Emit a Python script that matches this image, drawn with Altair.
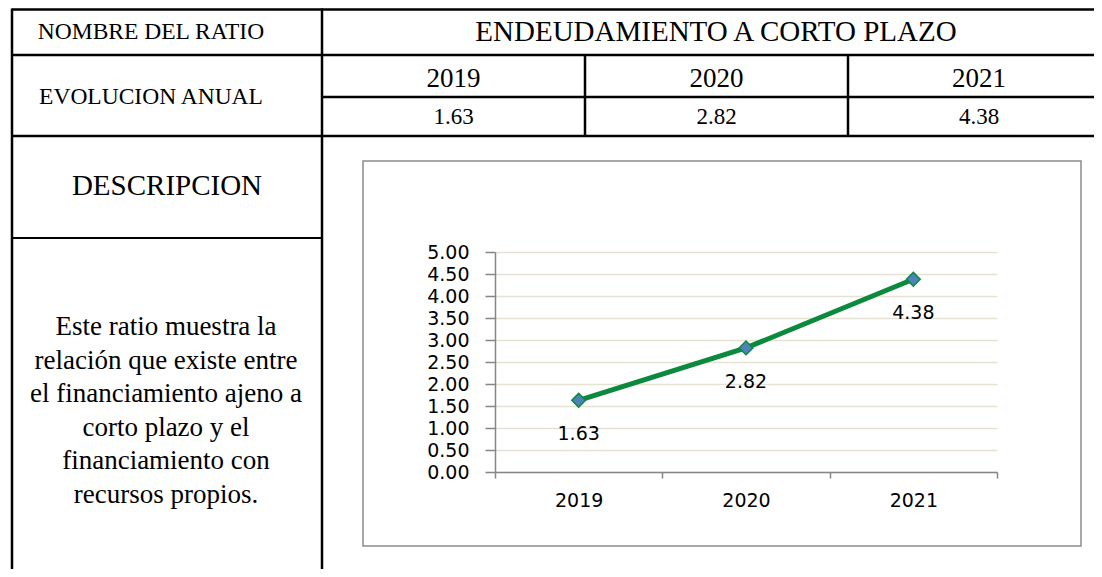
import altair as alt
import pandas as pd

# ---- data ----
years = ["2019", "2020", "2021"]
values = [1.63, 2.82, 4.38]
y_ticks = [0, 0.5, 1, 1.5, 2, 2.5, 3, 3.5, 4, 4.5, 5]

ratio_label = "NOMBRE DEL RATIO"
ratio_name = "ENDEUDAMIENTO A CORTO PLAZO"
evol_label = "EVOLUCION ANUAL"
desc_label = "DESCRIPCION"
desc_lines = [
    "Este ratio muestra la",
    "relación que existe entre",
    "el financiamiento ajeno a",
    "corto plazo y el",
    "financiamiento con",
    "recursos propios.",
]

# ---- layout (page pixels; plot area origin at OX, OY) ----
OX, OY = 495, 252
PW, PH = 502, 220
SERIF = "Liberation Serif"
SANS = "DejaVu Sans"
GREEN = "#0B8A3E"


def px(v):
    return v - OX


def py(v):
    return v - OY


rules = [
    (12, 9.5, 1110, 9.5, 2.5),
    (12, 55, 1110, 55, 2.5),
    (322, 97, 1110, 97, 2.5),
    (12, 136, 1110, 136, 2.5),
    (12, 238, 322, 238, 1.8),
    (12, 8.5, 12, 590, 2.5),
    (322, 8.5, 322, 590, 2.5),
    (585, 55, 585, 136, 2.5),
    (848, 55, 848, 136, 2.5),
]
rules_df = pd.DataFrame(
    [dict(x=px(a), y=py(b), x2=px(c), y2=py(d), w=w) for a, b, c, d, w in rules]
)

col_centers = [453.5, 716.5, 979]
texts = [
    (151, 32, ratio_label, 23.5),
    (716, 32, ratio_name, 29),
    (151, 97, evol_label, 23.5),
    (167, 186, desc_label, 29),
]
for cx, yr, v in zip(col_centers, years, values):
    texts.append((cx, 79, yr, 27))
    texts.append((cx, 117, f"{v:.2f}", 23))
for i, line in enumerate(desc_lines):
    texts.append((166, 327 + 33.6 * i, line, 27))
text_df = pd.DataFrame(
    [dict(x=px(a), y=py(b), t=t, fs=fs) for a, b, t, fs in texts]
)

frame_df = pd.DataFrame([dict(x=px(363), x2=px(1081), y=py(161), y2=py(546))])

data = pd.DataFrame({"year": years, "value": values})

# ---- table layers ----
table_rules = alt.Chart(rules_df).mark_rule(color="black").encode(
    x=alt.X("x:Q", scale=None, axis=None),
    x2="x2:Q",
    y=alt.Y("y:Q", scale=None, axis=None),
    y2="y2:Q",
    strokeWidth=alt.StrokeWidth("w:Q", scale=None, legend=None),
)

table_text = alt.Chart(text_df).mark_text(
    font=SERIF, color="black", align="center", baseline="middle"
).encode(
    x=alt.X("x:Q", scale=None, axis=None),
    y=alt.Y("y:Q", scale=None, axis=None),
    text="t:N",
    size=alt.Size("fs:Q", scale=None, legend=None),
)

frame = alt.Chart(frame_df).mark_rect(
    fillOpacity=0, stroke="#8C8C8C", strokeWidth=1.5
).encode(
    x=alt.X("x:Q", scale=None, axis=None),
    x2="x2:Q",
    y=alt.Y("y:Q", scale=None, axis=None),
    y2="y2:Q",
)

# ---- line chart ----
base = alt.Chart(data).encode(
    x=alt.X(
        "year:N",
        sort=years,
        scale=alt.Scale(type="band", paddingInner=0, paddingOuter=0),
        axis=alt.Axis(
            title=None,
            labelAngle=0,
            tickBand="extent",
            grid=False,
            domainColor="#868686",
            domainWidth=1.5,
            tickColor="#868686",
            tickWidth=1.5,
            tickSize=6,
            labelFont=SANS,
            labelFontSize=19,
            labelColor="black",
            labelPadding=13,
        ),
    ),
    y=alt.Y(
        "value:Q",
        scale=alt.Scale(domain=[0, 5], nice=False),
        axis=alt.Axis(
            title=None,
            values=y_ticks,
            format=".2f",
            grid=True,
            gridColor="#E6E2D2",
            gridWidth=1.5,
            domainColor="#868686",
            domainWidth=1.5,
            tickColor="#868686",
            tickWidth=1.5,
            tickSize=10,
            labelFont=SANS,
            labelFontSize=19,
            labelColor="black",
            labelPadding=16,
        ),
    ),
)

line = base.mark_line(color=GREEN, strokeWidth=5)
points = base.mark_point(
    shape="diamond", filled=True, fill="#4F81BD", stroke=GREEN,
    strokeWidth=1.5, size=190, opacity=1,
)
labels = base.mark_text(
    font=SANS, fontSize=19, color="black", dy=34, baseline="middle"
).encode(text=alt.Text("value:Q", format=".2f"))

line_chart = alt.layer(line, points, labels)

chart = (
    alt.layer(table_rules, table_text, frame, line_chart)
    .resolve_scale(x="independent", y="independent")
    .properties(
        width=PW,
        height=PH,
        autosize=alt.AutoSizeParams(type="none"),
        padding={"left": 487, "top": 244, "right": 97, "bottom": 97},
        background="white",
    )
    .configure_view(stroke=None)
)

chart.save("out.html", embed_options={"renderer": "svg", "actions": False})
